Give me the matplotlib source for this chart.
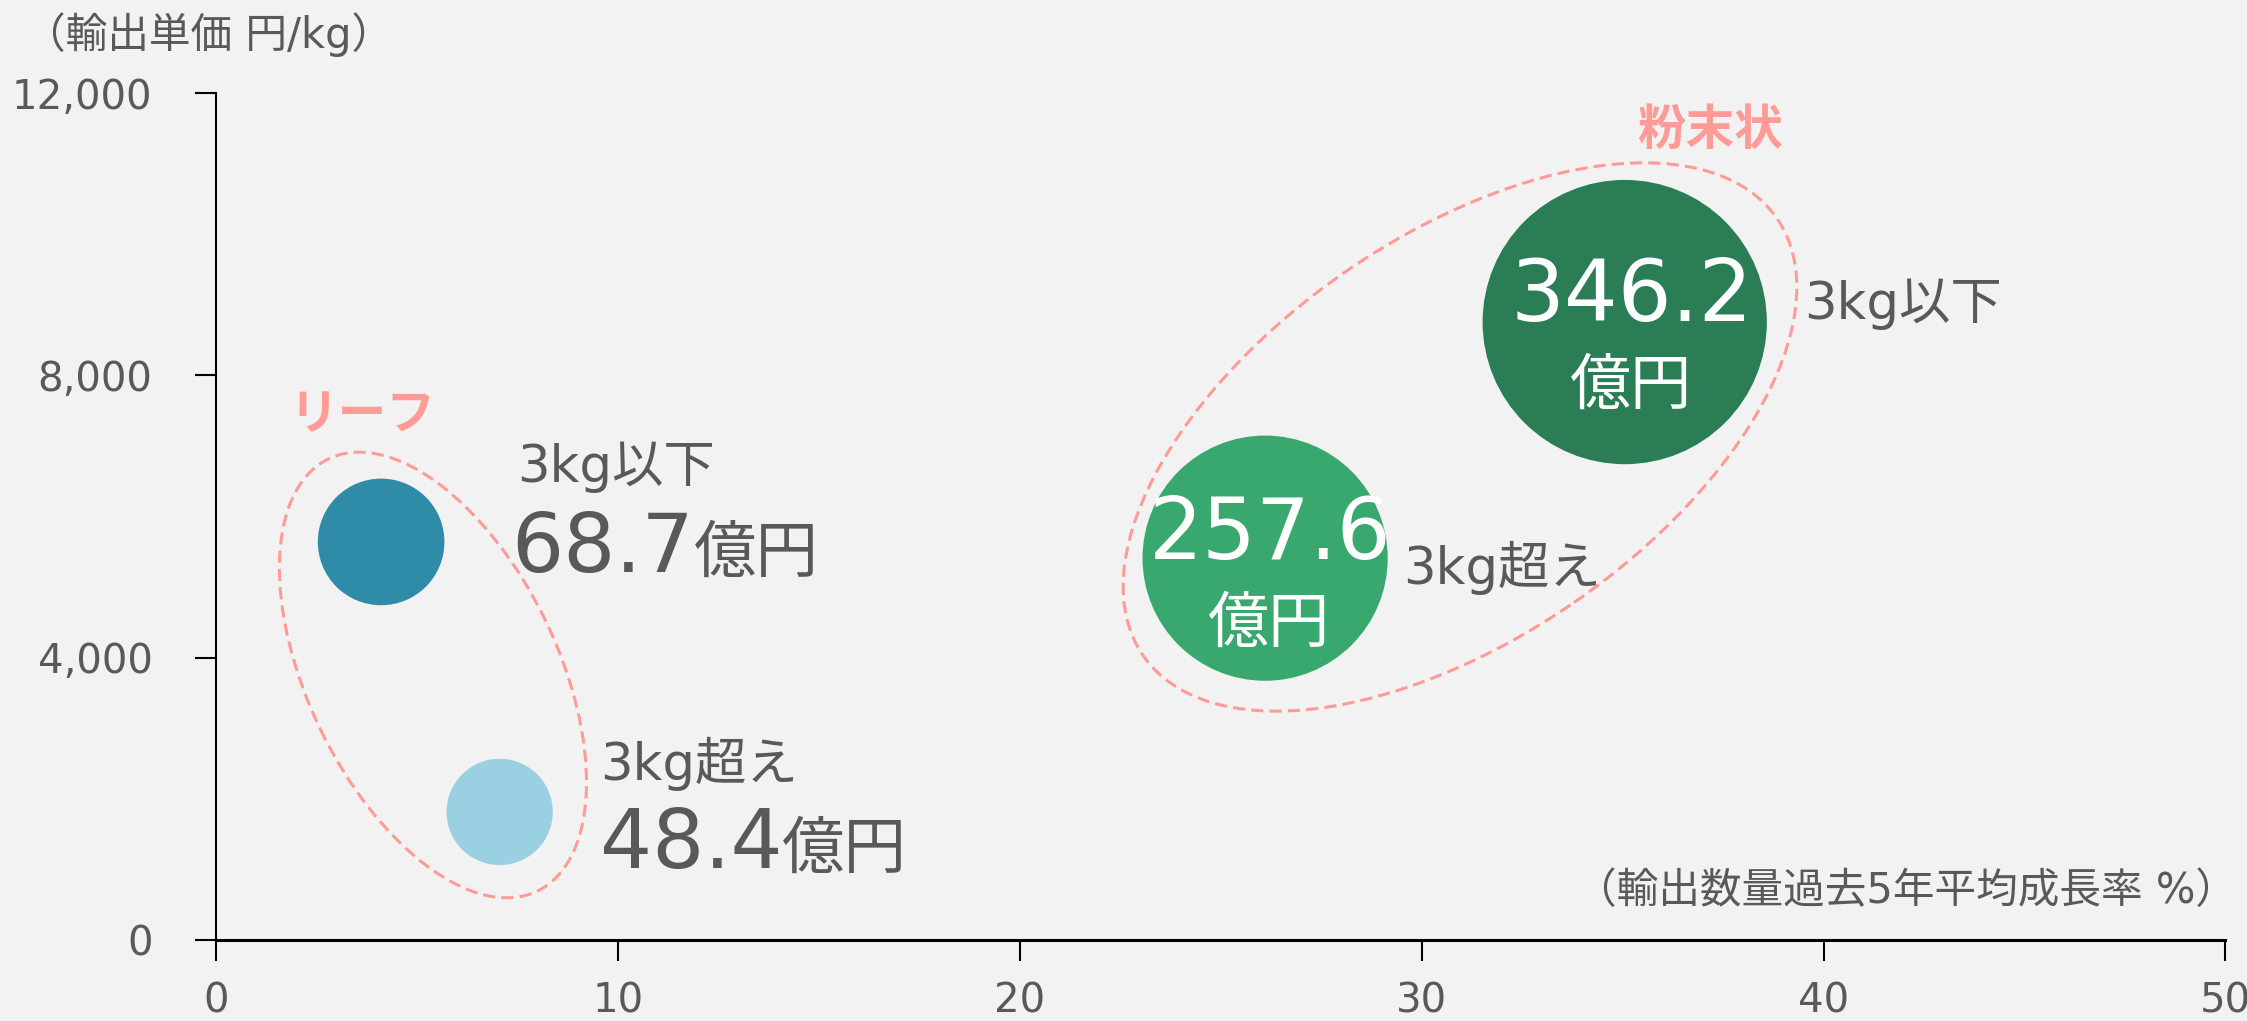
import matplotlib
matplotlib.use("Agg")
import matplotlib.pyplot as plt
import matplotlib.ticker as mticker
from matplotlib.patches import Ellipse
from matplotlib.transforms import ScaledTranslation

# DejaVu for latin/digits (Verdana-like, as in Meiryo), Noto for the kana/kanji
plt.rcParams['font.family'] = ['DejaVu Sans', 'Noto Sans CJK JP']

# data
categories = ["リーフ 3kg以下", "リーフ 3kg超え", "粉末状 3kg以下", "粉末状 3kg超え"]
growth = [4.1, 7.05, 35.05, 26.1]          # 輸出数量過去5年平均成長率 %
unit_price = [5640, 1815, 8755, 5410]       # 輸出単価 円/kg
export_value = [68.7, 48.4, 346.2, 257.6]   # 億円
size_labels = ["3kg以下", "3kg超え", "3kg以下", "3kg超え"]
colors = ["#2E8CA8", "#99D1E2", "#2A7D55", "#39A86F"]
x_ticks = [0, 10, 20, 30, 40, 50]
y_ticks = [0, 4000, 8000, 12000]

BG = "#F2F2F2"
GRAY = "#595959"
PINK = "#FF9B96"

fig = plt.figure(figsize=(22.47, 10.21), dpi=100, facecolor=BG)
ax = fig.add_axes([0.0963, 0.0793, 0.8941, 0.8296])
ax.set_facecolor(BG)

ax.scatter(growth, unit_price, s=[121 * v for v in export_value],
           c=colors, edgecolors="none", zorder=3)

ax.set_xlim(0, 50)
ax.set_ylim(0, 12000)
ax.set_xticks(x_ticks)
ax.set_yticks(y_ticks)
ax.yaxis.set_major_formatter(mticker.StrMethodFormatter("{x:,.0f}"))
for s in ["top", "right"]:
    ax.spines[s].set_visible(False)
ax.spines["left"].set_linewidth(1.5)
ax.spines["bottom"].set_linewidth(2.2)
ax.tick_params(axis="both", labelsize=29, labelcolor=GRAY, length=15, width=1.5)
ax.tick_params(axis="x", pad=15)
ax.tick_params(axis="y", pad=31)

fig.text(24 / 2247, 1 - 35 / 1021, "（輸出単価 円/kg）", fontsize=30, color=GRAY,
         ha="left", va="center")
fig.text(2237 / 2247, 1 - 891 / 1021, "（輸出数量過去5年平均成長率 %）", fontsize=30,
         color=GRAY, ha="right", va="center")


def px_anchor(x, y):
    return ScaledTranslation(x, y, ax.transData)


# dashed group outlines (sizes in pixels)
groups = [
    ("リーフ", 5.39, 3755, 480, 250, -64.2, (-70, 260)),
    ("粉末状", 30.95, 7127, 770, 402, 34.6, (250, 306)),
]
for name, cx, cy, w, h, ang, (lx, ly) in groups:
    ax.add_patch(Ellipse((0, 0), w, h, angle=ang, transform=px_anchor(cx, cy),
                         fill=False, edgecolor=PINK, lw=2.2,
                         linestyle=(0, (4, 2)), zorder=2, clip_on=False))
    ax.annotate(name, xy=(cx, cy), xytext=(lx, ly), textcoords="offset pixels",
                fontsize=35, fontweight="bold", color=PINK, ha="center", va="center")

# leaf labels: outside to the right
outer = {0: ((136, 60), (130, -30)), 1: ((100, 32), (100, -56))}
for i, ((sx, sy), (vx, vy)) in outer.items():
    ax.annotate(size_labels[i], xy=(growth[i], unit_price[i]), xytext=(sx, sy),
                textcoords="offset pixels", fontsize=37, color=GRAY,
                ha="left", va="baseline")
    t = ax.annotate(f"{export_value[i]:.1f}", xy=(growth[i], unit_price[i]),
                    xytext=(vx, vy), textcoords="offset pixels", fontsize=59,
                    color=GRAY, ha="left", va="baseline")
    ax.annotate("億円", xy=(1, unit_price[i]), xycoords=(t, "data"),
                xytext=(0, vy), textcoords="offset pixels", fontsize=45,
                color=GRAY, ha="left", va="baseline")

# powder labels: value inside bubble, size label to the right
inner = {2: ((7, 1), (6, -82), (179, 3)), 3: ((5, -1), (4, -84), (138, -26))}
for i, ((nx, ny), (ux, uy), (sx, sy)) in inner.items():
    ax.annotate(f"{export_value[i]:.1f}", xy=(growth[i], unit_price[i]),
                xytext=(nx, ny), textcoords="offset pixels", fontsize=61,
                color="white", ha="center", va="baseline", zorder=4)
    ax.annotate("億円", xy=(growth[i], unit_price[i]), xytext=(ux, uy),
                textcoords="offset pixels", fontsize=44, color="white",
                ha="center", va="baseline", zorder=4)
    ax.annotate(size_labels[i], xy=(growth[i], unit_price[i]), xytext=(sx, sy),
                textcoords="offset pixels", fontsize=37, color=GRAY,
                ha="left", va="baseline")

fig.savefig("out.png", dpi=100, facecolor=BG)
